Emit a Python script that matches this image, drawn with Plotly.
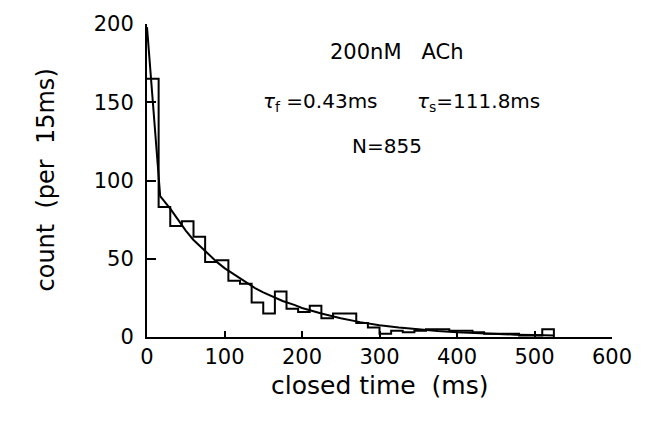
import plotly.graph_objects as go

# ---- data ----
bin_width = 15
bin_starts = [0, 15, 30, 45, 60, 75, 90, 105, 120, 135, 150, 165, 180, 195, 210,
              225, 240, 255, 270, 285, 300, 315, 330, 345, 360, 375, 390, 405,
              420, 435, 450, 465, 480, 495, 510]
counts = [165, 83, 71, 74, 64, 48, 49, 36, 34, 22, 15, 29, 18, 16, 20,
          12, 15, 15, 9, 6, 2, 4, 3, 4, 5, 5, 4, 4,
          3, 2, 2, 2, 1, 1, 5]

fit_t = [0, 17, 25, 30, 40, 50, 60, 75, 90, 100, 115, 125, 140, 150, 165, 175,
         190, 200, 225, 250, 275, 300, 325, 350, 375, 400, 425, 450, 475, 500, 525]
fit_y = [198, 90, 85, 82, 75, 68, 62, 55, 48, 44, 39, 35.5, 31, 28.5, 25, 23,
         20.5, 18.5, 15, 12, 9.5, 7.5, 6, 4.8, 3.8, 3, 2.4, 1.9, 1.5, 1.2, 1.0]

x_ticks = [0, 100, 200, 300, 400, 500, 600]
y_ticks = [0, 50, 100, 150, 200]

title_text = "200nM   ACh"
tau_f_text = "<i>τ</i><sub>f</sub> =0.43ms"
tau_s_text = "<i>τ</i><sub>s</sub>=111.8ms"
n_text = "N=855"

# step outline of histogram
step_x = list(bin_starts) + [bin_starts[-1] + bin_width]
step_y = list(counts) + [counts[-1]]
step_x = step_x + [step_x[-1]]
step_y = step_y + [0]

FONT = "DejaVu Sans"

fig = go.Figure()
fig.add_trace(go.Scatter(x=step_x, y=step_y, mode="lines", line_shape="hv",
                         line=dict(color="black", width=2), showlegend=False))
fig.add_trace(go.Scatter(x=fit_t, y=fit_y, mode="lines", line_shape="linear",
                         line=dict(color="black", width=2), showlegend=False))

fig.update_layout(
    width=647, height=427,
    margin=dict(l=147, r=35, t=15, b=90),
    paper_bgcolor="white", plot_bgcolor="white",
    font=dict(family=FONT, color="black", size=20),
    xaxis=dict(range=[0, 600], tickvals=x_ticks, ticks="inside", ticklen=6,
               tickwidth=2, tickcolor="black", showline=True, linewidth=2,
               linecolor="black", showgrid=False, zeroline=False,
               tickfont=dict(size=21, family=FONT)),
    yaxis=dict(range=[0, 200], tickvals=y_ticks, ticks="inside", ticklen=9,
               tickwidth=2, tickcolor="black", showline=True, linewidth=2,
               linecolor="black", showgrid=False, zeroline=False,
               tickfont=dict(size=21, family=FONT), ticklabelstandoff=7),
)

annots = [
    dict(x=322, y=182, text=title_text, font=dict(size=21)),
    dict(x=224, y=150, text=tau_f_text, font=dict(size=20)),
    dict(x=428, y=150, text=tau_s_text, font=dict(size=20)),
    dict(x=310, y=122, text=n_text, font=dict(size=20)),
]
for a in annots:
    fig.add_annotation(xref="x", yref="y", showarrow=False,
                       xanchor="center", yanchor="middle", **a)

fig.add_annotation(xref="paper", yref="paper", x=0.5, y=0, yshift=-48,
                   xanchor="center", yanchor="middle", showarrow=False,
                   text="closed time  (ms)", font=dict(size=25))
fig.add_annotation(xref="paper", yref="paper", x=0, y=0.5, xshift=-102,
                   xanchor="center", yanchor="middle", showarrow=False,
                   textangle=-90, text="count  (per  15ms)", font=dict(size=24))

fig.write_html("out.html")
